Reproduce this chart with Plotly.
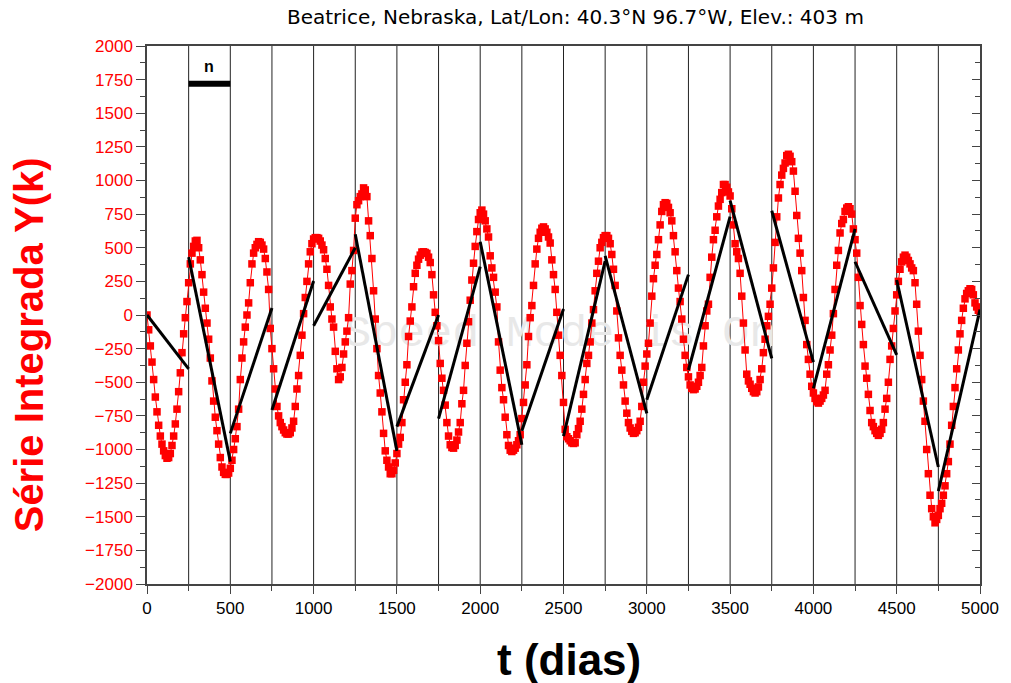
import plotly.graph_objects as go

# ---------------- data ----------------
STEP_DAYS = 10  # sampling of the integrated series (days)

Y_INTEGRATED = [
    0, -110, -230, -350, -480, -610, -720, -820, -900, -960,
    -1010, -1045, -1065, -1060, -1030, -970, -900, -810, -700, -570,
    -430, -280, -140, -20, 100, 240, 380, 460, 510, 550,
    555, 500, 410, 300, 170, 50, -60, -180, -320, -490,
    -640, -760, -860, -960, -1060, -1130, -1170, -1185, -1185, -1175,
    -1140, -1080, -1000, -920, -830, -700, -480, -320, -200, -90,
    0, 90, 240, 380, 460, 500, 525, 545, 540, 520,
    490, 420, 320, 190, -100, -250, -400, -550, -680, -750,
    -800, -830, -855, -875, -885, -885, -875, -840, -790, -680,
    -550, -450, -300, -150, 10, 130, 250, 380, 470, 530,
    565, 575, 575, 570, 550, 520, 485, 420, 340, 220,
    60, -30, -90, -270, -400, -480, -460, -390, -290, -200,
    -120, -20, 230, 330, 480, 720, 820, 850, 880, 900,
    945, 930, 880, 700, 590, 420, 180, -30, -250, -450,
    -580, -720, -880, -1010, -1080, -1130, -1180, -1180, -1155, -1100,
    -1030, -960, -910, -800, -630, -500, -370, -160, -45, 60,
    210, 310, 370, 415, 445, 468, 470, 465, 458, 430,
    390, 300, 150, 20, -80, -190, -360, -470, -560, -670,
    -800, -900, -965, -985, -990, -970, -930, -870, -800, -660,
    -560, -375, -210, -50, 110, 260, 385, 510, 620, 710,
    760, 780, 750, 700, 640, 580, 440, 350, 280, 170,
    60, -200, -410, -540, -630, -760, -890, -970, -1005, -1015,
    -1005, -990, -965, -935, -890, -770, -650, -520, -370, -160,
    -20, 70, 220, 380, 490, 570, 615, 645, 655, 640,
    615, 580, 535, 410, 300, 190, 20, -150, -300, -450,
    -650, -850, -905, -920, -935, -950, -955, -950, -890, -845,
    -790, -700, -590, -480, -360, -300, -200, -60, 40, 180,
    310, 400, 500, 540, 575, 590, 590, 570, 530, 450,
    340, 220, 30, -170, -300, -410, -520, -640, -730, -800,
    -840, -865, -880, -875, -860, -835, -790, -680, -500, -380,
    -290, -210, -60, 140, 270, 370, 450, 560, 670, 770,
    820, 835, 830, 800, 760, 700, 590, 470, 330, 200,
    100, -30, -180, -300, -390, -460, -520, -545, -555, -550,
    -530, -500, -450, -390, -230, -80, 30, 80, 280, 430,
    560, 630, 730, 810, 860, 910, 970, 970, 950, 915,
    885, 790, 670, 530, 470, 420, 310, 140, -60, -260,
    -440, -490, -515, -545, -570, -580, -570, -535, -480, -400,
    -280, -180, -80, -10, 80, 200, 350, 540, 730, 870,
    970, 1040, 1090, 1130, 1185, 1195, 1180, 1140, 1070, 920,
    740, 570, 460, 330, 130, -40, -220, -330, -440, -530,
    -580, -620, -645, -655, -640, -620, -595, -560, -440, -370,
    -260, -150, 10, 190, 370, 480, 610, 680, 710, 770,
    795, 805, 790, 750, 640, 560, 460, 280, 70, -70,
    -220, -380, -470, -590, -710, -800, -830, -860, -880, -895,
    -880, -850, -800, -700, -620, -500, -330, -230, -100, 30,
    150, 250, 340, 395, 430, 445, 430, 405, 380, 350,
    330, 240, 80, -120, -300, -480, -640, -790, -1000, -1180,
    -1340, -1440, -1500, -1545, -1520, -1490, -1440, -1400, -1340, -1270,
    -1180, -1090, -960, -820, -680, -540, -400, -260, -140, -40,
    50, 120, 160, 180, 195, 190, 150, 90, 60, 35,
    20,
]
T_DAYS = [i * STEP_DAYS for i in range(len(Y_INTEGRATED))]

# boxes of size n = 250 days and the local linear fit (start/end value)
BOX_EDGES = [0, 250, 500, 750, 1000, 1250, 1500, 1750, 2000, 2250, 2500,
             2750, 3000, 3250, 3500, 3750, 4000, 4250, 4500, 4750, 5000]
FIT_START = [0, 430, -880, -706, -80, 600, -830, -770, 545, -860,
             -900, 440, -630, -409, 850, 775, -545, 396, 260, -1310]
FIT_END = [-400, -1090, 52, 253, 500, -1010, 0, 360, -965, 45,
           400, -731, 300, 731, -322, -350, 640, -297, -1130, 40]

N_BAR = [250, 500]
N_BAR_LEVEL = 1720

TITLE = "Beatrice, Nebraska, Lat/Lon: 40.3°N 96.7°W, Elev.: 403 m"
X_TITLE = "t (dias)"
Y_TITLE = "Série Integrada Y(k)"

# ---------------- figure ----------------
fig = go.Figure()

# faint watermark (drawn first, under the data)
fig.add_trace(go.Scatter(
    x=[2480], y=[-150], mode="text", text=["Speed Mode is On"],
    textfont=dict(family="Liberation Mono, DejaVu Sans Mono, monospace", size=45, color="#e8e8e8"),
    hoverinfo="skip", showlegend=False,
))

fig.add_trace(go.Scatter(
    x=T_DAYS, y=Y_INTEGRATED, mode="lines+markers",
    line=dict(color="#ff0000", width=1),
    marker=dict(symbol="square", size=7.5, color="#ff0000", line=dict(width=0)),
    showlegend=False,
))

fx, fy = [], []
for i in range(len(FIT_START)):
    fx += [BOX_EDGES[i], BOX_EDGES[i + 1], None]
    fy += [FIT_START[i], FIT_END[i], None]
fig.add_trace(go.Scatter(
    x=fx, y=fy, mode="lines", line=dict(color="#000000", width=3),
    showlegend=False,
))

# n bar
fig.add_trace(go.Scatter(
    x=N_BAR, y=[N_BAR_LEVEL, N_BAR_LEVEL], mode="lines",
    line=dict(color="#000000", width=6), showlegend=False,
))

# invisible trace for the right axis
fig.add_trace(go.Scatter(x=[0], y=[0], yaxis="y2", mode="markers",
                         marker=dict(opacity=0), showlegend=False, hoverinfo="skip"))

shapes = []
for e in BOX_EDGES[1:-1]:
    shapes.append(dict(type="line", xref="x", yref="y", x0=e, x1=e, y0=-2000, y1=2000,
                       line=dict(color="#222222", width=1), layer="below"))

AXIS_COLOR = "#444444"
FONT = "Arial, Liberation Sans, sans-serif"

fig.update_layout(
    width=1011, height=683,
    margin=dict(l=147, r=27, t=46, b=99),
    paper_bgcolor="white", plot_bgcolor="white",
    shapes=shapes,
    xaxis=dict(
        range=[0, 5000], dtick=500, tick0=0, showgrid=False, zeroline=False,
        showline=True, linecolor=AXIS_COLOR, linewidth=1.5, mirror=True,
        ticks="outside", ticklen=8, tickcolor=AXIS_COLOR, tickwidth=1,
        minor=dict(dtick=250, ticks="outside", ticklen=5, tickcolor=AXIS_COLOR),
        tickfont=dict(family="Liberation Sans Narrow, Arial Narrow, " + FONT, size=17, color="black"),
    ),
    yaxis=dict(
        range=[-2000, 2000], dtick=250, tick0=0, showgrid=False, zeroline=False,
        showline=True, linecolor=AXIS_COLOR, linewidth=1.5, mirror=True,
        ticks="outside", ticklen=9, tickcolor=AXIS_COLOR, tickwidth=1,
        minor=dict(dtick=125, ticks="outside", ticklen=5, tickcolor=AXIS_COLOR),
        tickfont=dict(family=FONT, size=17, color="#ff0000"),
    ),
    yaxis2=dict(
        range=[-2000, 2000], dtick=250, overlaying="y", side="right",
        showgrid=False, zeroline=False, showticklabels=False,
        ticks="inside", ticklen=8, tickcolor=AXIS_COLOR,
        minor=dict(dtick=125, ticks="inside", ticklen=5, tickcolor=AXIS_COLOR),
    ),
    annotations=[
        dict(text=TITLE, xref="paper", yref="paper", x=0.514, y=1.054,
             xanchor="center", yanchor="middle", showarrow=False,
             font=dict(family="DejaVu Sans, " + FONT, size=20, color="black")),
        dict(text="<b>" + X_TITLE + "</b>", xref="paper", yref="paper", x=0.507, y=-0.141,
             xanchor="center", yanchor="middle", showarrow=False,
             font=dict(family=FONT, size=44, color="black")),
        dict(text="<b>" + Y_TITLE + "</b>", xref="paper", yref="paper", x=-0.142, y=0.445,
             xanchor="center", yanchor="middle", showarrow=False, textangle=-90,
             font=dict(family=FONT, size=40, color="#ff0000")),
        dict(text="<b>n</b>", xref="x", yref="y", x=375, y=1850,
             xanchor="center", yanchor="middle", showarrow=False,
             font=dict(family=FONT, size=16, color="black")),
    ],
)

fig.write_html("out.html")
